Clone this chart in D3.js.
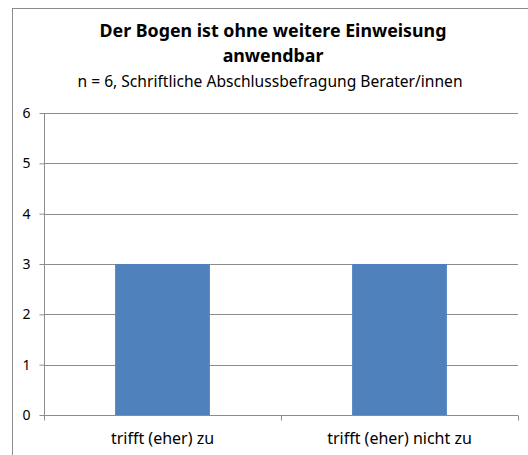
<!DOCTYPE html>
<html>
<head>
<meta charset="utf-8">
<script src="https://cdn.jsdelivr.net/npm/d3@7"></script>
<style>
  body { margin: 0; background: #fff; }
  text { font-family: "Noto Sans", "Open Sans", sans-serif; fill: #000; }
</style>
</head>
<body>
<svg id="chart" width="528" height="455"></svg>
<script>
var categories = ["trifft (eher) zu", "trifft (eher) nicht zu"];
var counts = [3, 3];
var yTicks = [0, 1, 2, 3, 4, 5, 6];
var titleLines = ["Der Bogen ist ohne weitere Einweisung", "anwendbar"];
var subtitle = "n = 6, Schriftliche Abschlussbefragung Berater/innen";

var svg = d3.select("#chart"),
    margin = {top: 113, right: 10, bottom: 40, left: 44},
    width = 518 - margin.left,
    height = 415 - margin.top,
    g = svg.append("g").attr("transform", "translate(" + margin.left + "," + margin.top + ")");

// outer chart frame (only top and left edges fall inside the picture)
svg.append("rect")
    .attr("x", 12.5).attr("y", 8.5)
    .attr("width", 560).attr("height", 500)
    .attr("fill", "none")
    .attr("stroke", "#8c8c8c");

var x = d3.scaleBand().domain(categories).range([0, width]).paddingInner(0.6).paddingOuter(0.3);
var y = d3.scaleLinear().domain([0, 6]).range([height, 0]);

// gridlines
g.selectAll(".grid")
    .data(yTicks.filter(function(d) { return d > 0; }))
    .enter().append("line")
    .attr("class", "grid")
    .attr("x1", 0).attr("x2", width)
    .attr("y1", function(d) { return Math.round(y(d)) + 0.5; })
    .attr("y2", function(d) { return Math.round(y(d)) + 0.5; })
    .attr("stroke", "#8c8c8c");

// bars
g.selectAll(".bar")
    .data(counts)
    .enter().append("rect")
    .attr("class", "bar")
    .attr("x", function(d, i) { return x(categories[i]); })
    .attr("width", x.bandwidth())
    .attr("y", function(d) { return y(d); })
    .attr("height", function(d) { return height - y(d); })
    .attr("fill", "#4f81bd");

// y axis
var yAxis = g.append("g")
    .attr("transform", "translate(0.5,0)")
    .call(d3.axisLeft(y).tickValues(yTicks).tickSize(5).tickPadding(9).tickFormat(d3.format("d")));
yAxis.select(".domain").attr("stroke", "#8c8c8c").attr("d", "M0,0V" + height);
yAxis.selectAll(".tick line").attr("stroke", "#8c8c8c");
yAxis.selectAll(".tick text").style("font-size", "14px").style("font-family", "'Noto Sans', sans-serif");

// x axis with boundary ticks
var xAxis = g.append("g")
    .attr("transform", "translate(0," + (height + 0.5) + ")");
xAxis.append("line")
    .attr("x1", 0).attr("x2", width)
    .attr("stroke", "#8c8c8c");
var bounds = [0].concat(categories.map(function(c) { return x(c) + x.bandwidth() / 2 + x.step() / 2; }));
xAxis.selectAll(".xtick")
    .data(bounds)
    .enter().append("line")
    .attr("x1", function(d) { return Math.round(d) + 0.5; })
    .attr("x2", function(d) { return Math.round(d) + 0.5; })
    .attr("y1", 0).attr("y2", 5)
    .attr("stroke", "#8c8c8c");
xAxis.selectAll(".xlabel")
    .data(categories)
    .enter().append("text")
    .attr("x", function(d) { return x(d) + x.bandwidth() / 2; })
    .attr("y", 28)
    .attr("text-anchor", "middle")
    .style("font-size", "16px")
    .text(function(d) { return d; });

// titles
svg.selectAll(".title")
    .data(titleLines)
    .enter().append("text")
    .attr("x", 273)
    .attr("y", function(d, i) { return 37 + i * 25; })
    .attr("text-anchor", "middle")
    .style("font-size", "17.8px")
    .style("font-weight", "bold")
    .text(function(d) { return d; });

svg.append("text")
    .attr("x", 270)
    .attr("y", 87)
    .attr("text-anchor", "middle")
    .style("font-size", "15.6px")
    .text(subtitle);
</script>
</body>
</html>
